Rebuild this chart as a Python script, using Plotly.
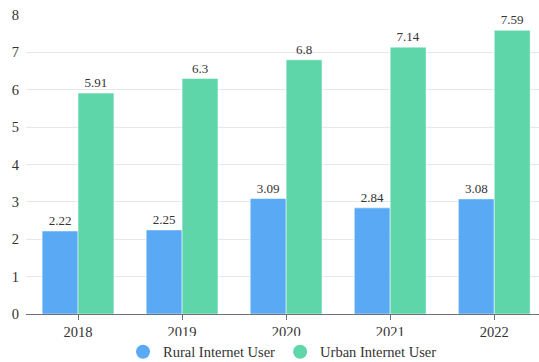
import plotly.graph_objects as go

years = ["2018", "2019", "2020", "2021", "2022"]
rural = [2.22, 2.25, 3.09, 2.84, 3.08]
urban = [5.91, 6.3, 6.8, 7.14, 7.59]

series_names = ["Rural Internet User", "Urban Internet User"]
colors = ["#59A9F4", "#5ED6AA"]
serif = "Liberation Serif"

fig = go.Figure()
for name, vals, col in zip(series_names, [rural, urban], colors):
    fig.add_trace(go.Bar(
        x=years, y=vals, name=name, showlegend=False,
        marker=dict(color=col, line=dict(color="white", width=0.5)),
        text=[str(v) for v in vals], textposition="outside",
        textfont=dict(family=serif, size=13, color="#333333"),
        cliponaxis=False,
    ))
    # circular legend entries
    fig.add_trace(go.Scatter(
        x=[None], y=[None], mode="markers", name=name,
        marker=dict(symbol="circle", size=14, color=col),
    ))

fig.update_layout(
    width=539, height=362,
    margin=dict(l=26, r=0, t=15, b=48, autoexpand=False),
    paper_bgcolor="white", plot_bgcolor="white",
    font=dict(family=serif, size=14, color="#333333"),
    barmode="group", bargap=0.31, bargroupgap=0.0,
    showlegend=True,
    legend=dict(orientation="h", x=0.5, xanchor="center",
                yref="container", y=0.028, yanchor="middle",
                font=dict(family=serif, size=14.5, color="#333333")),
    xaxis=dict(range=[-0.5, 4.43], showgrid=False, showline=True, linecolor="#6E7079",
               linewidth=1, ticks="outside", ticklen=5, tickcolor="#6E7079",
               tickfont=dict(family=serif, size=14.5, color="#333333")),
    yaxis=dict(range=[0, 8], dtick=1, showgrid=True, gridcolor="#E6E6E6",
               zeroline=False, showline=False,
               tickfont=dict(family=serif, size=14.5, color="#333333"),
               ticklabelstandoff=6),
)

fig.write_html("out.html")
